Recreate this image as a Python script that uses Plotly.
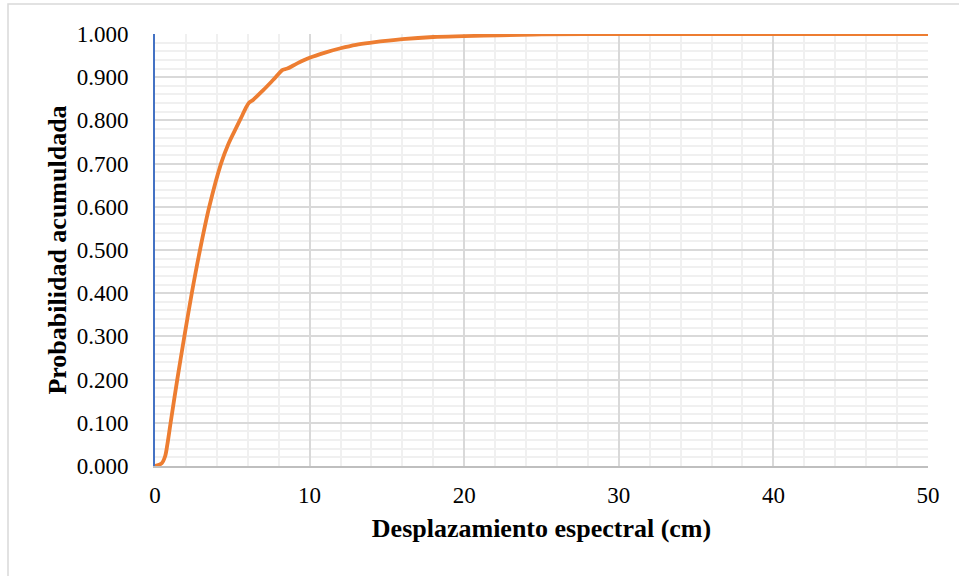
import plotly.graph_objects as go

# Desplazamiento espectral (cm) y probabilidad acumulada
desplazamiento = [0, 0.43, 0.65, 0.80, 1.01, 1.44, 1.90, 2.38, 2.91, 3.51, 4.27,
                  4.74, 5.28, 5.61, 5.86, 6.08, 6.36, 7.00, 7.65, 8.26, 8.56,
                  9.20, 10.0, 11.0, 12.0, 13.0, 14.0, 16.0, 18.0, 20.0, 22.3,
                  25.0, 30.0, 35.0, 40.0, 45.0, 50.0]
probabilidad = [0.000, 0.006, 0.022, 0.050, 0.100, 0.200, 0.300, 0.400, 0.500, 0.600, 0.700,
                0.745, 0.785, 0.809, 0.828, 0.841, 0.848, 0.870, 0.894, 0.917, 0.920,
                0.932, 0.945, 0.957, 0.967, 0.975, 0.980, 0.988, 0.993, 0.995, 0.997,
                0.999, 1.000, 1.000, 1.000, 1.000, 1.000]

x_ticks = [0, 10, 20, 30, 40, 50]
y_ticks = [0.0, 0.1, 0.2, 0.3, 0.4, 0.5, 0.6, 0.7, 0.8, 0.9, 1.0]

FONT = "Liberation Serif, Times New Roman, serif"

fig = go.Figure()
fig.add_trace(go.Scatter(
    x=desplazamiento, y=probabilidad, mode="lines",
    line=dict(color="#ED7D31", width=3.8, shape="spline", smoothing=0.9),
    showlegend=False, hoverinfo="skip",
))

W, H = 959, 576
L, R, T, B = 155, 31, 34, 110
pw, ph = W - L - R, H - T - B

def px_x(p):
    return (p - L) / pw

def px_y(p):
    return (H - B - p) / ph

fig.update_layout(
    width=W, height=H,
    margin=dict(l=L, r=R, t=T, b=B),
    paper_bgcolor="white", plot_bgcolor="white",
    font=dict(family=FONT, size=23, color="black"),
    xaxis=dict(
        range=[0, 50], tickvals=x_ticks, ticktext=[str(v) for v in x_ticks],
        showgrid=True, gridcolor="#d9d9d9", gridwidth=1.6,
        minor=dict(dtick=2, showgrid=True, gridcolor="#f0f0f0", gridwidth=1.6),
        showline=True, linecolor="#bfbfbf", linewidth=2,
        zeroline=False, ticks="", ticklabelstandoff=7,
        title=dict(text="<b>Desplazamiento espectral (cm)</b>", font=dict(size=26), standoff=12),
    ),
    yaxis=dict(
        range=[0, 1], tickvals=y_ticks, ticktext=[f"{v:.3f}" for v in y_ticks],
        showgrid=True, gridcolor="#d9d9d9", gridwidth=1.6,
        minor=dict(dtick=0.02, showgrid=True, gridcolor="#f0f0f0", gridwidth=1.6),
        showline=True, linecolor="#4472C4", linewidth=2,
        zeroline=False, ticks="", ticklabelstandoff=20,
        title=dict(text="<b>Probabilidad acumuldada</b>", font=dict(size=26), standoff=3),
    ),
    shapes=[dict(
        type="rect", xref="paper", yref="paper",
        x0=px_x(8), x1=px_x(965), y0=px_y(585), y1=px_y(4),
        line=dict(color="#d9d9d9", width=1.5), fillcolor="rgba(0,0,0,0)", layer="below",
    )],
)

fig.write_html("out.html")
